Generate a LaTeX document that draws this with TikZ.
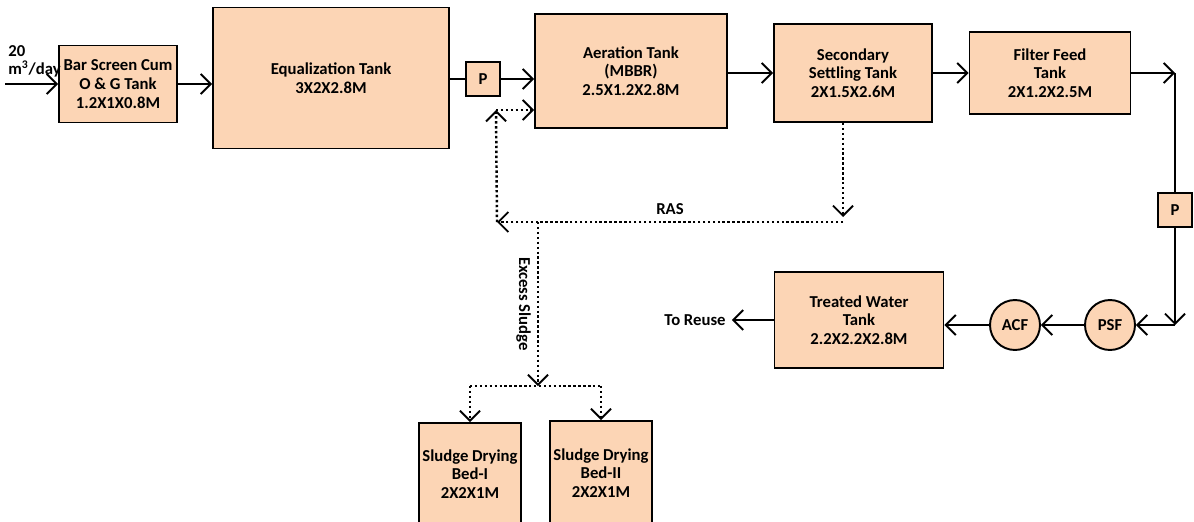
\documentclass[tikz,border=0pt]{standalone}
\usepackage{fontspec}
\setmainfont{Carlito}
\usetikzlibrary{arrows.meta}
\definecolor{tankfill}{HTML}{FCD5B5}
\begin{document}
\begin{tikzpicture}[x=0.02cm, y=-0.02cm, font=\fontsize{9.5}{10.6}\selectfont\bfseries,
    tank/.style={draw, line width=1.1pt, fill=tankfill, align=center, inner sep=2pt},
    pump/.style={tank, minimum size=0.68cm, inner sep=0pt},
    filt/.style={circle, draw, line width=1.1pt, fill=tankfill, minimum size=1cm, inner sep=0pt},
    flow/.style={line width=1.1pt, -{Straight Barb[length=2mm,width=4mm]}},
    pipe/.style={line width=1.1pt},
    ras/.style={line width=1.4pt, dash pattern=on 1.4pt off 1.4pt},
    rasflow/.style={ras, -{Straight Barb[length=2mm,width=4mm,line width=1.1pt]}}]
    \useasboundingbox (0,0) rectangle (1194,521);

    \node[tank, minimum width=2.36cm, minimum height=1.54cm] (bar) at (118,84) {Bar Screen Cum\\O \& G Tank\\1.2X1X0.8M};
    \node[tank, minimum width=4.72cm, minimum height=2.82cm] (eq) at (331,78) {Equalization Tank\\3X2X2.8M};
    \node[pump] (p1) at (483,79) {P};
    \node[tank, minimum width=3.84cm, minimum height=2.28cm] (aer) at (631,71) {Aeration Tank\\(MBBR)\\2.5X1.2X2.8M};
    \node[tank, minimum width=3.16cm, minimum height=1.96cm] (sec) at (853,73) {Secondary\\Settling Tank\\2X1.5X2.6M};
    \node[tank, minimum width=3.22cm, minimum height=1.64cm] (ff) at (1050,73) {Filter Feed\\Tank\\2X1.2X2.5M};
    \node[pump] (p2) at (1175,210) {P};
    \node[filt] (psf) at (1110,325) {PSF};
    \node[filt] (acf) at (1015,325) {ACF};
    \node[tank, minimum width=3.38cm, minimum height=1.92cm] (tw) at (859,320) {Treated Water\\Tank\\2.2X2.2X2.8M};
    \node (reuse) at (695,320) {To Reuse};
    \node[tank, minimum width=1.98cm, minimum height=2.04cm] (bed1) at (470,474) {Sludge Drying\\Bed-I\\2X2X1M};
    \node[tank, minimum width=1.94cm, minimum height=2.08cm] (bed2) at (601,473) {Sludge Drying\\Bed-II\\2X2X1M};
    \node[anchor=north west, align=left, inner sep=0pt] (rate) at (8,45) {20\\m\textsuperscript{3}/day};

    \coordinate (in) at (5,84);
    \coordinate (rasR) at (843,222);
    \coordinate (rasL) at (497,222);
    \coordinate (ret) at (496,110);
    \coordinate (exTop) at (538,222);
    \coordinate (exBot) at (538,386);

    \draw[flow] (in) -- (bar.west);
    \draw[flow] (bar.east) -- (bar.east -| eq.west);
    \draw[pipe] (eq.east |- p1.west) -- (p1.west);
    \draw[flow] (p1.east) -- (p1.east -| aer.west);
    \draw[flow] (aer.east |- sec.west) -- (sec.west);
    \draw[flow] (sec.east) -- (ff.west);
    \draw[flow] (ff.east) -- (ff.east -| p2);
    \draw[pipe] (ff.east -| p2) -- (p2.north);
    \draw[flow] (p2.south) -- (p2 |- psf);
    \draw[flow] (p2 |- psf) -- (psf.east);
    \draw[flow] (psf.west) -- (acf.east);
    \draw[flow] (acf.west) -- (acf.west -| tw.east);
    \draw[flow] (tw.west) -- (reuse.east);

    \draw[rasflow, shorten >=0.1cm] (sec.south -| rasR) -- (rasR);
    \draw[rasflow] (rasR) -- node[above] {RAS} (rasL);
    \draw[rasflow] (rasL) -- (ret);
    \draw[rasflow] (ret) -- (ret -| aer.west);
    \draw[rasflow] (exTop) -- node[anchor=north, rotate=-90] {Excess Sludge} (exBot);
    \draw[ras] (exBot -| bed1) -- (exBot -| bed2);
    \draw[rasflow] (exBot -| bed1) -- (bed1.north);
    \draw[rasflow] (exBot -| bed2) -- (bed2.north);
\end{tikzpicture}
\end{document}
